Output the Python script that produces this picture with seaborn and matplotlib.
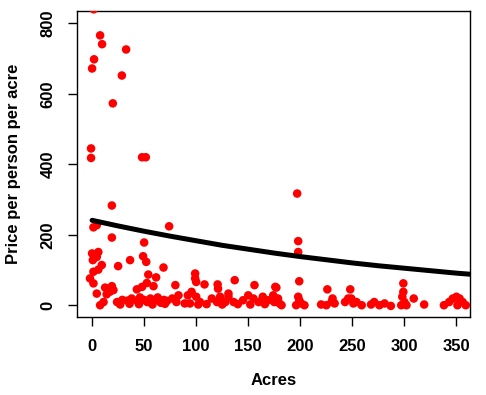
import matplotlib
matplotlib.use("Agg")
import matplotlib.pyplot as plt
import seaborn as sns
import pandas as pd

# points (acres, price per person per acre)
acres = [1.6, 7.7, 9.6, 32.7, 1.9, 0, 28.6, 19.9, -1, -1, 48, 51.6, 19, 74, 1.3, 4.5,
         197, 198, 198, 19, 50,
         0, 6, 4.5, 0.7, 36.5, 49, 52, 25, 9.3, 6, 1.3, 68.6, 54, 61.5, -2, 1.3, 80, 52.6,
         12.5, 19, 20.5, 43, 48, 59, 4.5, 14, 17, 7.7, 11,
         24, 29, 34, 38, 43, 46, 50, 53, 56, 60, 63, 66, 69, 72, 77,
         27, 36, 45, 58, 70,
         99, 99, 100, 137, 108, 120.6, 121, 156, 176, 92, 95.6, 100, 103.6, 83, 81,
         115, 120, 123, 128, 131, 136, 131, 145, 150, 155, 160, 164, 169, 174, 89, 94, 102,
         110, 125, 140, 152, 166,
         177, 199, 226, 248, 178.6, 180, 175, 182, 198, 199, 201, 196, 204, 220, 225,
         230, 231, 233, 243, 246, 249, 251, 254, 259, 268,
         299, 299, 298, 300, 297, 302, 309, 319, 271, 276, 281, 287,
         338, 343, 346.5, 350, 353, 356, 359, 351]
price = [840, 766, 741, 726, 698, 672, 652, 573, 445, 418, 420, 420, 283, 224, 221, 227,
         317, 182, 151, 192, 178,
         147, 151, 137, 128, 128, 139, 123, 111, 114, 101, 95, 107, 87, 79, 76, 62, 57, 63,
         50, 54, 43, 45, 52, 54, 33, 31, 38, 0, 9,
         9, 15, 13, 19, 13, 22, 15, 9, 19, 13, 22, 7, 15, 12, 19,
         2, 4, 3, 2, 4,
         90, 76, 66, 71, 59, 59, 47, 57, 52, 28, 38, 24, 9, 28, 9,
         19, 9, 24, 9, 24, 9, 33, 14, 28, 19, 9, 24, 14, 28, 5, 5, 2,
         3, 2, 3, 2, 3,
         50, 68, 45, 45, 19, 5, 9, 0, 24, 14, 5, 0, 0, 2, 0,
         9, 19, 5, 9, 19, 19, 5, 9, 0, 2,
         62, 38, 24, 9, 0, 0, 19, 2, 9, 0, 5, -2,
         0, 9, 19, 24, 19, 9, 0, 0]

# fitted curve, read at a few positions
curve_x = [0, 25, 50, 75, 100, 125, 150, 175, 200, 225, 250, 275, 300, 325, 350, 363]
curve_y = [241, 225, 210, 196, 183, 170, 159, 148, 138, 129, 120, 112, 105, 98, 91, 88]

df = pd.DataFrame({"acres": acres, "price": price})
fit = pd.DataFrame({"acres": curve_x, "price": curve_y})

sns.set_style("white")
plt.rcParams["font.family"] = ["Liberation Sans", "DejaVu Sans"]
plt.rcParams["font.weight"] = "bold"
plt.rcParams["text.color"] = "black"
plt.rcParams["axes.labelcolor"] = "black"
plt.rcParams["xtick.color"] = "black"
plt.rcParams["ytick.color"] = "black"

fig = plt.figure(figsize=(4.86, 3.95), dpi=100)
ax = fig.add_axes([0.158, 0.197, 0.809, 0.775])

sns.scatterplot(data=df, x="acres", y="price", color="red", s=38,
                edgecolor="none", ax=ax, zorder=3)
sns.lineplot(data=fit, x="acres", y="price", color="black", linewidth=3.6,
             ax=ax, zorder=4)

ax.set_xlim(-14.7, 363)
ax.set_ylim(-34, 835)
ax.set_xticks([0, 50, 100, 150, 200, 250, 300, 350])
ax.set_yticks([0, 200, 400, 600, 800])
ax.tick_params(direction="out", length=6.5, width=1, colors="black",
               labelsize=12, pad=9, bottom=True, left=True)
for lab in ax.get_yticklabels():
    lab.set_rotation(90)
    lab.set_va("center")
for lab in ax.get_xticklabels() + ax.get_yticklabels():
    lab.set_fontweight("bold")
    lab.set_color("black")

for sp in ax.spines.values():
    sp.set_visible(True)
    sp.set_color("black")
    sp.set_linewidth(1)

ax.set_xlabel("Acres", fontsize=12, fontweight="bold", labelpad=14, color="black")
ax.set_ylabel("Price per person per acre", fontsize=12, fontweight="bold",
              labelpad=14, color="black")

fig.savefig("out.png", dpi=100)
